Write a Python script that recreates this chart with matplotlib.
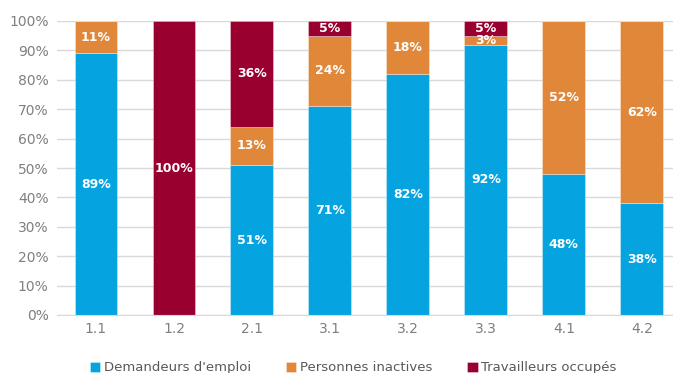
import matplotlib
matplotlib.use("Agg")
import matplotlib.pyplot as plt
import numpy as np

categories = ["1.1", "1.2", "2.1", "3.1", "3.2", "3.3", "4.1", "4.2"]
demandeurs = [89, 0, 51, 71, 82, 92, 48, 38]
inactives = [11, 0, 13, 24, 18, 3, 52, 62]
occupes = [0, 100, 36, 5, 0, 5, 0, 0]

series = [("Demandeurs d'emploi", demandeurs, "#05a4e0"),
          ("Personnes inactives", inactives, "#e0873a"),
          ("Travailleurs occupés", occupes, "#990030")]

plt.rcParams['font.family'] = ['DejaVu Sans']

fig = plt.figure(figsize=(6.73, 3.73), dpi=100)
ax = fig.add_axes([57/673, 58/373, 616/673, 294/373])

x = np.arange(len(categories))
bottom = np.zeros(len(categories))
for name, vals, col in series:
    vals = np.array(vals, dtype=float)
    ax.bar(x, vals, 0.55, bottom=bottom, color=col, label=name, zorder=2,
           edgecolor=(1, 1, 1, 0.4), linewidth=0.6)
    for xi, v, b in zip(x, vals, bottom):
        if v > 0:
            ax.text(xi, b + v / 2, f"{int(v)}%", ha="center", va="center",
                    color="white", fontsize=9, fontweight="bold", zorder=3)
    bottom += vals

ax.set_xlim(-0.5, 7.4)
ax.set_ylim(0, 100)
ax.set_yticks(np.arange(0, 101, 10))
ax.set_yticklabels([f"{t}%" for t in range(0, 101, 10)])
ax.set_xticks(x)
ax.set_xticklabels(categories)
ax.yaxis.grid(True, color="#d9d9d9", linewidth=1, zorder=0)
ax.set_axisbelow(True)
for s in ["top", "right", "left"]:
    ax.spines[s].set_visible(False)
ax.spines["bottom"].set_color("#d9d9d9")
ax.tick_params(axis="both", length=0, colors="#7f7f7f", labelsize=10)
ax.tick_params(axis="x", pad=5)
ax.tick_params(axis="y", pad=6)

fig.legend(loc="lower center", bbox_to_anchor=(0.525, -0.035), ncol=3, frameon=False,
           fontsize=9.5, handlelength=0.8, handleheight=0.8, handletextpad=0.3,
           columnspacing=2.6, labelcolor="#595959")

fig.savefig("out.png", dpi=100)
